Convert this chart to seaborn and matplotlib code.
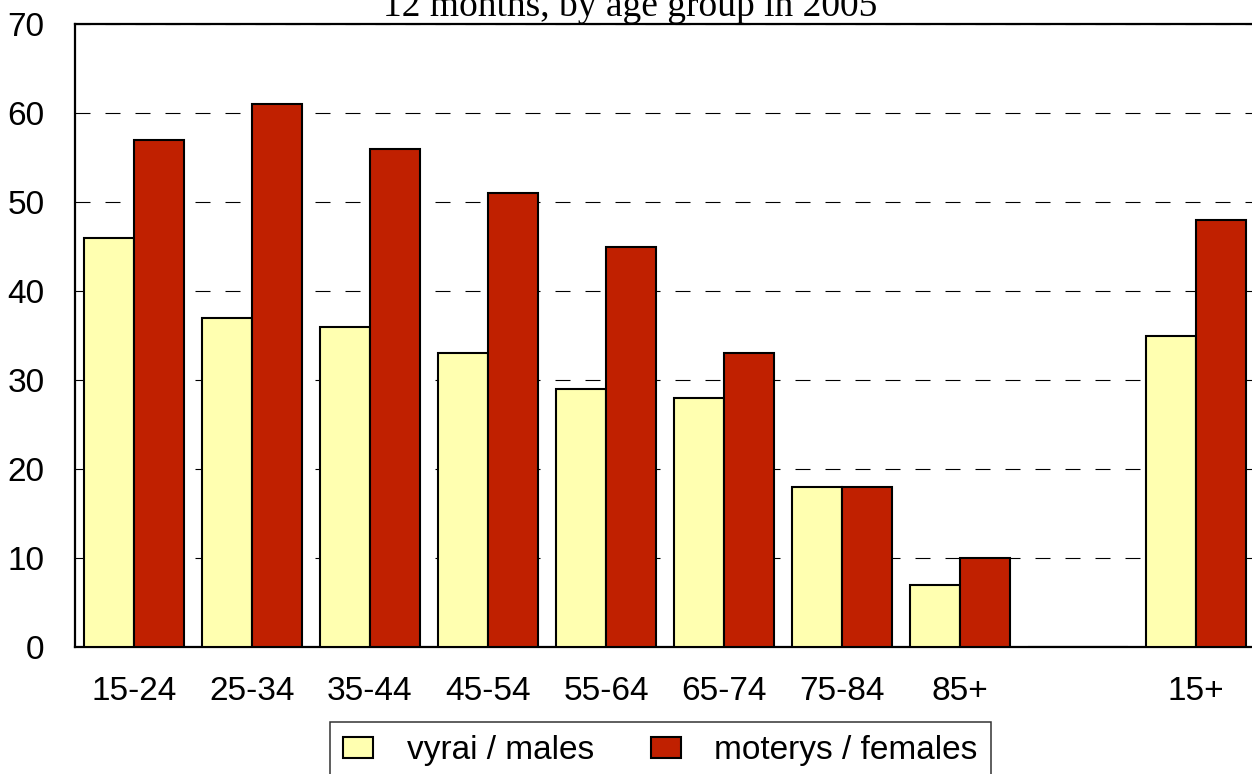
import pandas as pd
import matplotlib.pyplot as plt
import seaborn as sns
from matplotlib.patches import Patch

# ── Duomenys ─────────────────────────────────────────────
amzius = ["15-24", "25-34", "35-44", "45-54", "55-64", "65-74", "75-84", "85+", " ", "15+"]
vyrai = [46, 37, 36, 33, 29, 28, 18, 7, 0, 35]
moterys = [57, 61, 56, 51, 45, 33, 18, 10, 0, 48]
serijos = ["vyrai / males", "moterys / females"]
spalvos = ["#FFFFB0", "#C02000"]

df = pd.DataFrame({
    "amzius": amzius * 2,
    "reiksme": vyrai + moterys,
    "lytis": [serijos[0]] * len(amzius) + [serijos[1]] * len(amzius),
})

# ── Stilius ──────────────────────────────────────────────
sns.set_style("white")
plt.rcParams["font.family"] = ["Liberation Sans", "DejaVu Sans"]
plt.rcParams["text.color"] = "black"
plt.rcParams["lines.scale_dashes"] = False
FS = 24

fig = plt.figure(figsize=(12.52, 7.74), dpi=100)
ax = fig.add_axes([75 / 1252, 1 - 647 / 774, 1180 / 1252, 623 / 774])

sns.barplot(
    data=df, x="amzius", y="reiksme", hue="lytis",
    order=amzius, hue_order=serijos, palette=spalvos,
    width=0.85, edgecolor="black", linewidth=1.5, saturation=1,
    legend=False, ax=ax, zorder=3,
)

ax.set_ylim(0, 70)
ax.set_xlim(-0.5, 9.5)
ax.set_yticks(range(0, 71, 10))
ax.set_xlabel("")
ax.set_ylabel("")
ax.grid(axis="y", color="black", linestyle=(0, (10.8, 10.8)), linewidth=0.8, zorder=0)
ax.set_axisbelow(True)
for side, sp in ax.spines.items():
    sp.set_color("black")
    sp.set_linewidth(1.6)
ax.spines["right"].set_visible(False)
ax.tick_params(axis="both", length=0, labelsize=FS, colors="black")
ax.tick_params(axis="y", pad=22)
ax.tick_params(axis="x", pad=21)

# pavadinimas (viršus nukirptas, kaip originale)
fig.text(0.503, 1 - 16 / 774, "12 months, by age group in 2005",
         ha="center", va="baseline", fontsize=27, family="Liberation Serif")

# ── Legenda ──────────────────────────────────────────────
rankenos = [Patch(facecolor=c, edgecolor="black", linewidth=1.5, label=s)
            for c, s in zip(spalvos, serijos)]
leg = fig.legend(
    handles=rankenos, loc="upper left", bbox_to_anchor=(330 / 1252, 1 - 722 / 774),
    ncol=2, fontsize=FS, frameon=True, fancybox=False, shadow=False,
    handlelength=0.9, handleheight=0.6, handletextpad=1.0, columnspacing=1.7,
    borderpad=0.4, borderaxespad=0,
)
leg.get_frame().set_edgecolor("black")
leg.get_frame().set_linewidth(1.1)

plt.savefig("out.png", dpi=100)
